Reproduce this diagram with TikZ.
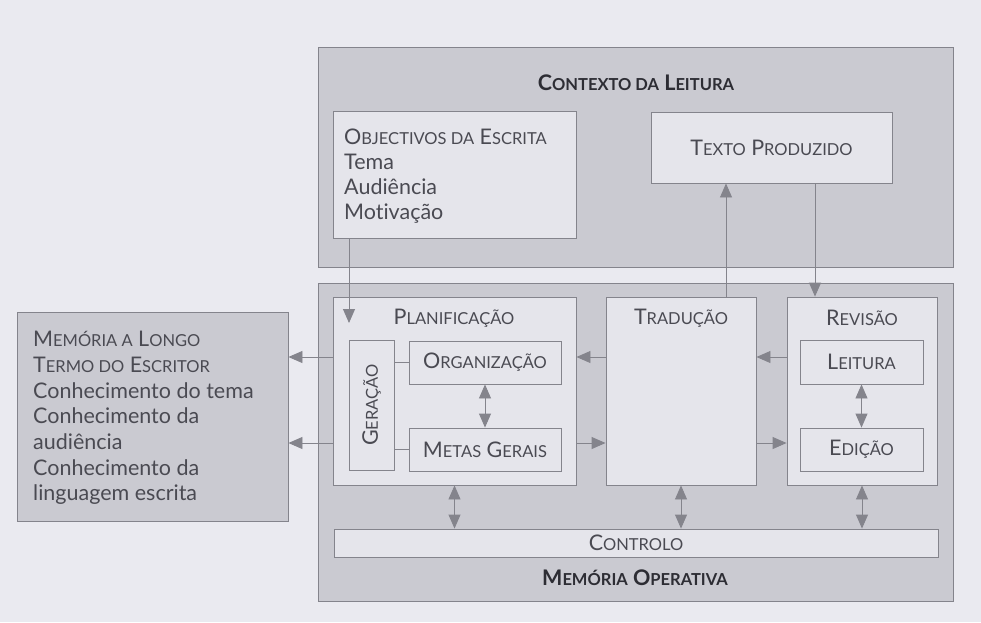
\documentclass[tikz,border=0pt]{standalone}
\usepackage{fontspec}
\setmainfont{Lato}[Ligatures=NoCommon]
\usetikzlibrary{arrows.meta,positioning}
\definecolor{pagebg}{RGB}{234,234,240}
\definecolor{outerfill}{RGB}{202,202,209}
\definecolor{innerfill}{RGB}{229,229,235}
\definecolor{edge}{RGB}{132,132,140}
\definecolor{ink}{RGB}{74,74,82}
\definecolor{darkink}{RGB}{45,45,52}
\newcommand{\smc}[1]{{\fontsize{16.5}{16.5}\selectfont #1}}

\begin{document}
\begin{tikzpicture}[x=1pt,y=-1pt,
  outer/.style={draw=edge,fill=outerfill,line width=0.9pt,inner sep=0pt},
  inner/.style={draw=edge,fill=innerfill,line width=0.9pt,inner sep=0pt},
  txt/.style={text=ink,font=\fontsize{21.5}{25}\selectfont,inner sep=0pt},
  ttl/.style={text=darkink,font=\bfseries\fontsize{21.5}{25}\selectfont,inner sep=0pt},
  arr/.style={-{Triangle[length=14pt,width=12pt]},color=edge,line width=0.9pt},
  darr/.style={{Triangle[length=14pt,width=12pt]}-{Triangle[length=14pt,width=12pt]},color=edge,line width=0.9pt}]
\fill[pagebg] (0,0) rectangle (981,622);
\useasboundingbox (0,0) rectangle (981,622);
\node[outer,minimum width=635pt,minimum height=220pt] (ctx) at (635.5,157) {};
\node[ttl] (ctxT) at (636,83) {C\smc{ONTEXTO DA} L\smc{EITURA}};
\node[inner,minimum width=243pt,minimum height=127pt] (obj) at (454.5,174.5) {};
\node[txt,anchor=north west,align=left] (objT) at (344,129)
 {O\smc{BJECTIVOS DA} E\smc{SCRITA}\\Tema\\Audiência\\Motivação};
\node[inner,txt,minimum width=241pt,minimum height=71pt] (prod) at (771.5,147.5) {T\smc{EXTO} P\smc{RODUZIDO}};
\node[outer,minimum width=635pt,minimum height=318pt] (mem) at (635.5,442) {};
\node[ttl] (memT) at (635,578) {M\smc{EMÓRIA} O\smc{PERATIVA}};
\node[inner,minimum width=243pt,minimum height=188pt] (plan) at (454.5,391) {};
\node[txt] (planT) at (454,318) {P\smc{LANIFICAÇÃO}};
\node[inner,txt,minimum width=130pt,minimum height=45pt,rotate=90] (ger) at (371.5,405) {G\smc{ERAÇÃO}};
\node[inner,txt,minimum width=152pt,minimum height=43pt] (org) at (485,362.5) {O\smc{RGANIZAÇÃO}};
\node[inner,txt,minimum width=152pt,minimum height=43pt] (metas) at (485,449.5) {M\smc{ETAS} G\smc{ERAIS}};
\node[inner,minimum width=150pt,minimum height=188pt] (trad) at (681,391) {};
\node[txt] (tradT) at (681,318) {T\smc{RADUÇÃO}};
\node[inner,minimum width=150pt,minimum height=188pt] (rev) at (862,391) {};
\node[txt] (revT) at (862,318) {R\smc{EVISÃO}};
\node[inner,txt,minimum width=123pt,minimum height=44pt] (leit) at (861.5,362) {L\smc{EITURA}};
\node[inner,txt,minimum width=123pt,minimum height=43pt] (edic) at (861.5,449.5) {E\smc{DIÇÃO}};
\node[inner,txt,minimum width=604pt,minimum height=28pt] (ctrl) at (636,543) {C\smc{ONTROLO}};
\node[outer,minimum width=271pt,minimum height=209pt] (ltm) at (152.5,416.5) {};
\node[txt,anchor=north west,align=left,font=\fontsize{21.5}{25.7}\selectfont] (ltmT) at (33,331)
 {M\smc{EMÓRIA A} L\smc{ONGO}\\T\smc{ERMO DO} E\smc{SCRITOR}\\Conhecimento do tema\\Conhecimento da\\audiência\\Conhecimento da\\linguagem escrita};
\coordinate (planIn) at (349,323);
\coordinate (upX) at (726,0); \coordinate (dnX) at (815,0);
\coordinate (rowA) at (0,357); \coordinate (rowB) at (0,443);
\draw[arr] (obj.south -| planIn) -- (planIn);
\draw[arr] (trad.north -| upX) -- (prod.south -| upX); \draw[arr] (prod.south -| dnX) -- (rev.north -| dnX);
\draw[arr] (plan.west |- rowA) -- (ltm.east |- rowA); \draw[arr] (plan.west |- rowB) -- (ltm.east |- rowB);
\draw[arr] (trad.west |- rowA) -- (plan.east |- rowA); \draw[arr] (plan.east |- rowB) -- (trad.west |- rowB);
\draw[arr] (rev.west |- rowA) -- (trad.east |- rowA); \draw[arr] (trad.east |- rowB) -- (rev.west |- rowB);
\draw[edge,line width=0.9pt] (org.west) -- (org.west -| ger.south); \draw[edge,line width=0.9pt] (metas.west) -- (metas.west -| ger.south);
\draw[darr] (org.south) -- (metas.north); \draw[darr] (leit.south) -- (edic.north);
\draw[darr] (plan.south) -- (plan.south |- ctrl.north); \draw[darr] (trad.south) -- (trad.south |- ctrl.north); \draw[darr] (rev.south) -- (rev.south |- ctrl.north);
\end{tikzpicture}
\end{document}
